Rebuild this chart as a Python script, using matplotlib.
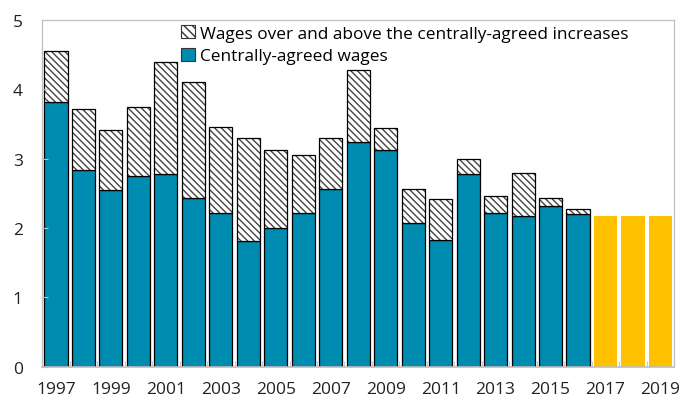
import matplotlib

matplotlib.use("Agg")
import matplotlib.pyplot as plt
import numpy as np
from matplotlib.patches import Patch

plt.rcParams["font.family"] = ["Open Sans", "DejaVu Sans"]
plt.rcParams["hatch.linewidth"] = 1.0
plt.rcParams["hatch.color"] = "#444444"

years = list(range(1997, 2020))
central = [3.82, 2.83, 2.55, 2.75, 2.78, 2.43, 2.22, 1.81, 2.00, 2.22, 2.57, 3.24,
           3.12, 2.07, 1.83, 2.78, 2.22, 2.18, 2.32, 2.20]
total = [4.55, 3.72, 3.42, 3.75, 4.40, 4.11, 3.46, 3.30, 3.12, 3.06, 3.30, 4.28,
         3.44, 2.57, 2.42, 2.99, 2.46, 2.80, 2.44, 2.27]
forecast = [2.17, 2.17, 2.17]

teal = "#008BB0"
gold = "#FFC000"

fig, ax = plt.subplots(figsize=(6.81, 4.02), dpi=100)
fig.subplots_adjust(left=0.062, right=0.99, top=0.948, bottom=0.085)

n_hist = len(central)
x_hist = np.arange(n_hist)
x_fc = np.arange(n_hist, n_hist + len(forecast))
over = np.array(total) - np.array(central)
w = 0.84

ax.bar(x_hist, central, width=w, color=teal, edgecolor="black", linewidth=0.9)
ax.bar(x_hist, over, bottom=central, width=w, color="white", edgecolor="#444444",
       hatch="\\\\\\\\\\", linewidth=0.0)
ax.bar(x_hist, over, bottom=central, width=w, color="none", edgecolor="black", linewidth=0.9)
ax.bar(x_fc, forecast, width=w, color=gold, edgecolor="none")

ax.set_xlim(-0.5, n_hist + len(forecast) - 0.5)
ax.set_ylim(0, 5)
ax.set_yticks([0, 1, 2, 3, 4, 5])
ax.set_xticks(np.arange(0, len(years), 2))
ax.set_xticklabels([str(y) for y in years[::2]])
ax.set_xticks(np.arange(-0.5, len(years), 1), minor=True)
ax.tick_params(axis="x", which="major", length=0, pad=10, labelsize=12.5, colors="#222222")
ax.tick_params(axis="x", which="minor", length=4, direction="in", color="#BFBFBF")
ax.tick_params(axis="y", length=4, direction="in", color="#BFBFBF", labelsize=12.5,
               pad=14, labelcolor="#222222")

for side in ["top", "right", "left"]:
    ax.spines[side].set_color("#BFBFBF")
    ax.spines[side].set_linewidth(0.9)
ax.spines["bottom"].set_color("#BFBFBF")
ax.spines["bottom"].set_linewidth(1.2)

handles = [
    Patch(facecolor="white", edgecolor="#333333", hatch="\\\\\\\\", linewidth=0.8,
          label="Wages over and above the centrally-agreed increases"),
    Patch(facecolor=teal, edgecolor="#333333", linewidth=0.8, label="Centrally-agreed wages"),
]
ax.legend(handles=handles, loc="upper left", bbox_to_anchor=(0.206, 1.01), frameon=False,
          fontsize=12.4, handlelength=0.8, handleheight=0.8, handletextpad=0.3,
          labelspacing=0.35, borderaxespad=0.1, borderpad=0.4)

fig.savefig("out.png", dpi=100)
